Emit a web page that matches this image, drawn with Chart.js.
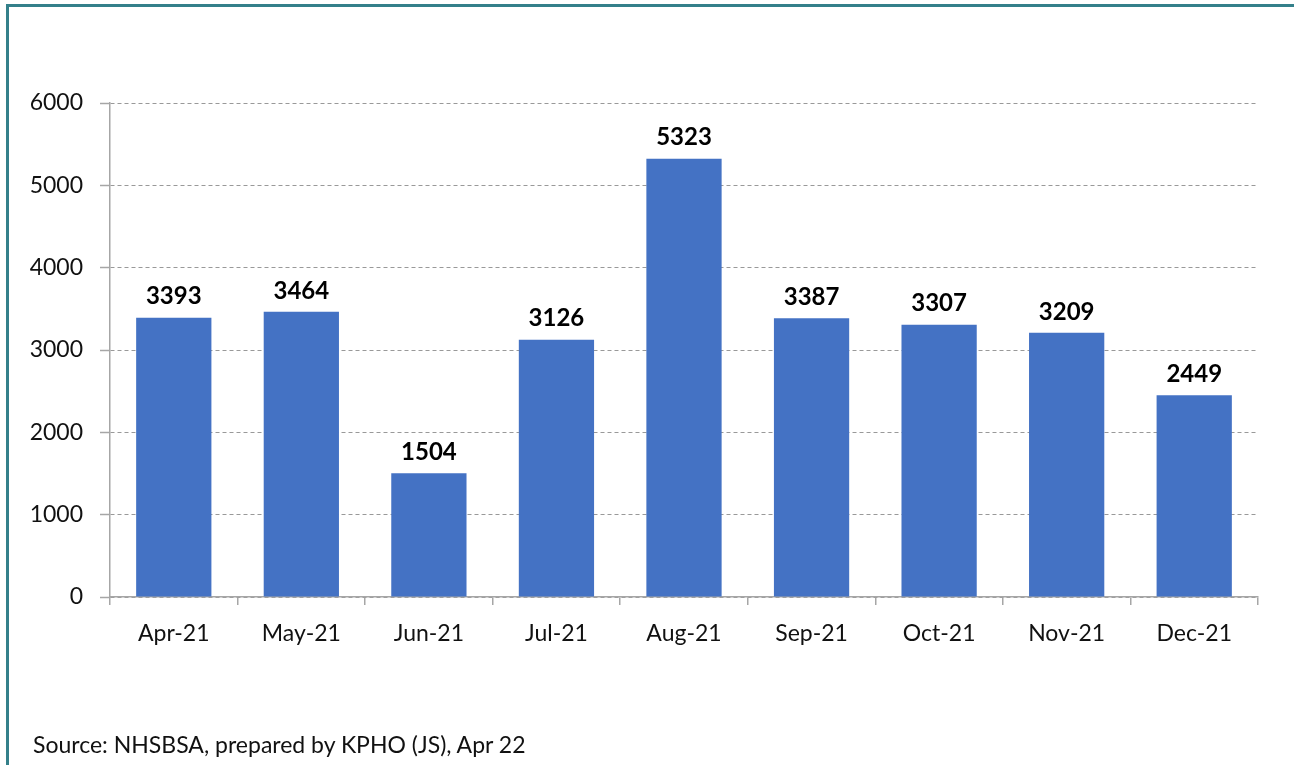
<!DOCTYPE html>
<html>
<head>
<meta charset="utf-8">
<script src="https://cdn.jsdelivr.net/npm/chart.js@4"></script>
<style>
    html, body { margin: 0; padding: 0; background: #fff; }
    #wrap { position: relative; width: 1294px; height: 765px; overflow: hidden; }
    #frame {
        position: absolute; left: 6px; top: 4px; right: -10px; bottom: -10px;
        border-top: 3px solid #34808a; border-left: 3px solid #34808a;
    }
    #source {
        position: absolute; left: 33px; top: 730px;
        font-family: Lato, "Liberation Sans", sans-serif; font-size: 23px; color: #111;
    }
    canvas { position: absolute; left: 0; top: 0; }
</style>
</head>
<body>
<div id="wrap">
    <div id="frame"></div>
    <canvas id="barChart" width="1294" height="765"></canvas>
    <div id="source">Source: NHSBSA, prepared by KPHO (JS), Apr 22</div>
</div>
<script>
const months = ['Apr-21', 'May-21', 'Jun-21', 'Jul-21', 'Aug-21', 'Sep-21', 'Oct-21', 'Nov-21', 'Dec-21'];
const counts = [3393, 3464, 1504, 3126, 5323, 3387, 3307, 3209, 2449];
const yTicks = [0, 1000, 2000, 3000, 4000, 5000, 6000];

const fontFamily = 'Lato, "Liberation Sans", sans-serif';

// value labels above each bar
const barLabels = {
    id: 'barLabels',
    afterDatasetsDraw(chart) {
        const ctx = chart.ctx;
        const meta = chart.getDatasetMeta(0);
        ctx.save();
        ctx.font = 'bold 24px ' + fontFamily;
        ctx.fillStyle = '#000';
        ctx.textAlign = 'center';
        ctx.textBaseline = 'bottom';
        meta.data.forEach((bar, i) => {
            ctx.fillText(String(counts[i]), bar.x, bar.y - 9);
        });
        ctx.restore();
    }
};

const ctx = document.getElementById('barChart').getContext('2d');
new Chart(ctx, {
    type: 'bar',
    data: {
        labels: months,
        datasets: [{
            data: counts,
            backgroundColor: '#4472c4',
            borderWidth: 0,
            categoryPercentage: 1,
            barPercentage: 0.59
        }]
    },
    options: {
        responsive: false,
        animation: false,
        layout: { padding: { left: 0, right: 36, top: 103, bottom: 0 } },
        plugins: {
            legend: { display: false },
            tooltip: { enabled: false }
        },
        scales: {
            x: {
                afterFit(scale) { scale.height = 168; },
                border: { color: '#a6a6a6', width: 1.5 },
                grid: {
                    drawOnChartArea: false,
                    drawTicks: true,
                    tickLength: 8,
                    color: '#a6a6a6',
                    lineWidth: 1.5
                },
                ticks: {
                    padding: 15,
                    color: '#111',
                    font: { family: fontFamily, size: 23 }
                }
            },
            y: {
                min: 0,
                max: 6000,
                afterFit(scale) { scale.width = 110; },
                afterBuildTicks(scale) { scale.ticks = yTicks.map(v => ({ value: v })); },
                border: { color: '#a6a6a6', width: 1.5, dash: [4, 3] },
                grid: {
                    color: '#999999',
                    lineWidth: 1,
                    tickLength: 10,
                    tickColor: '#a6a6a6',
                    tickWidth: 1.5
                },
                ticks: {
                    padding: 17,
                    color: '#111',
                    font: { family: fontFamily, size: 23 },
                    callback: (v) => String(v)
                }
            }
        }
    },
    plugins: [barLabels]
});
</script>
</body>
</html>
